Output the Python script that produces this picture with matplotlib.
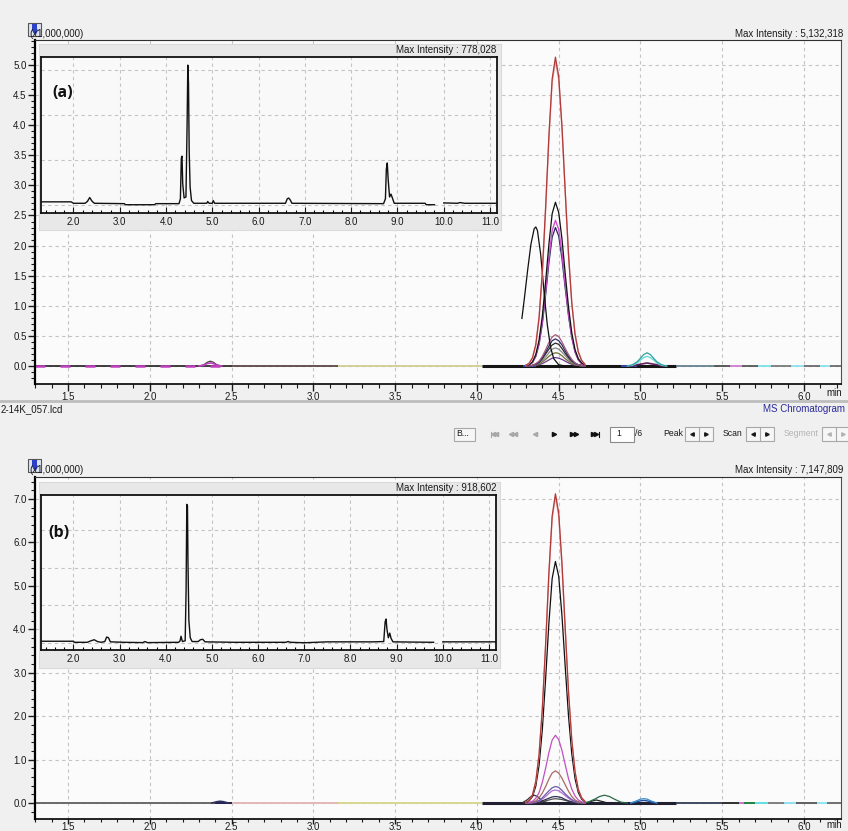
import matplotlib.pyplot as plt
import numpy as np
from matplotlib import font_manager
from matplotlib.patches import Rectangle
from matplotlib.ticker import MultipleLocator

## Values
## big windows: intensity x1,000,000 ; small TIC insets: intensity x100,000
nan = np.nan

# shared time grid (min) for the traces under the 4.48 min peak
t_main = [4.30, 4.32, 4.34, 4.36, 4.38, 4.40, 4.42, 4.44, 4.46, 4.48,
          4.50, 4.52, 4.54, 4.56, 4.58, 4.60, 4.62, 4.64, 4.66]

# ---- window (a) ----
a_red = [0.01, 0.05, 0.14, 0.36, 0.81, 1.57, 2.64, 3.82, 4.77, 5.13, 4.81, 3.98, 2.89, 1.85, 1.04, 0.52, 0.23, 0.09, 0.03]
a_pink = [0.01, 0.04, 0.13, 0.34, 0.78, 1.52, 2.58, 3.76, 4.71, 5.06, 4.76, 3.95, 2.88, 1.86, 1.06, 0.54, 0.24, 0.10, 0.03]
a_black = [0.01, 0.02, 0.07, 0.19, 0.43, 0.83, 1.40, 2.02, 2.53, 2.72, 2.55, 2.11, 1.53, 0.98, 0.55, 0.27, 0.12, 0.05, 0.02]
a_magenta = [0.01, 0.02, 0.06, 0.17, 0.38, 0.74, 1.24, 1.80, 2.25, 2.42, 2.27, 1.88, 1.36, 0.87, 0.49, 0.24, 0.11, 0.04, 0.01]
a_navy = [0.01, 0.02, 0.06, 0.16, 0.36, 0.70, 1.18, 1.71, 2.14, 2.30, 2.16, 1.78, 1.29, 0.83, 0.47, 0.23, 0.10, 0.04, 0.01]
a_mauve = [0.00, 0.00, 0.01, 0.04, 0.08, 0.16, 0.27, 0.39, 0.48, 0.52, 0.49, 0.40, 0.29, 0.19, 0.11, 0.05, 0.02, 0.01, 0.00]
a_indigo = [0.00, 0.00, 0.01, 0.03, 0.07, 0.14, 0.23, 0.33, 0.42, 0.45, 0.42, 0.35, 0.25, 0.16, 0.09, 0.05, 0.02, 0.01, 0.00]
a_dark = [0.00, 0.00, 0.01, 0.03, 0.06, 0.12, 0.20, 0.28, 0.35, 0.38, 0.36, 0.29, 0.21, 0.14, 0.08, 0.04, 0.02, 0.01, 0.00]
a_grey = [0.00, 0.00, 0.01, 0.02, 0.05, 0.09, 0.15, 0.22, 0.28, 0.30, 0.28, 0.23, 0.17, 0.11, 0.06, 0.03, 0.01, 0.01, 0.00]
a_olive = [0.00, 0.00, 0.01, 0.02, 0.03, 0.07, 0.11, 0.16, 0.20, 0.22, 0.21, 0.17, 0.12, 0.08, 0.04, 0.02, 0.01, 0.00, 0.00]
a_low = [0.00, 0.00, 0.00, 0.01, 0.02, 0.04, 0.07, 0.10, 0.13, 0.14, 0.13, 0.11, 0.08, 0.05, 0.03, 0.01, 0.01, 0.00, 0.00]

# early eluting trace, starts part way up
t_a_early = [4.275, 4.29, 4.31, 4.33, 4.35, 4.36, 4.37, 4.39, 4.41, 4.43, 4.45, 4.47, 4.50, 4.54]
a_early = [0.79, 1.12, 1.59, 2.02, 2.28, 2.31, 2.25, 1.85, 1.24, 0.69, 0.31, 0.12, 0.02, 0.00]

# 5.04 min group
t_a_cyan = [4.92, 4.95, 4.98, 5.00, 5.02, 5.04, 5.06, 5.08, 5.10, 5.13, 5.16]
a_cyan1 = [0.00, 0.02, 0.07, 0.13, 0.19, 0.22, 0.19, 0.13, 0.07, 0.02, 0.00]
a_cyan2 = [0.00, 0.01, 0.05, 0.10, 0.14, 0.16, 0.14, 0.10, 0.05, 0.01, 0.00]
a_plum = [0.00, 0.00, 0.02, 0.03, 0.04, 0.05, 0.04, 0.03, 0.02, 0.00, 0.00]

# small bump at 2.37 min
t_a_bump = [2.30, 2.33, 2.35, 2.37, 2.39, 2.41, 2.44]
a_bump_k = [0.00, 0.02, 0.06, 0.08, 0.06, 0.02, 0.00]
a_bump_m = [0.00, 0.01, 0.04, 0.05, 0.04, 0.01, 0.00]

# flat baseline pieces of the other channels (start, end)
a_seg_start = [1.298, 2.50, 3.15, 4.03, 4.28, 4.88, 5.22, 5.45, 5.55, 5.62, 5.72, 5.80, 5.92, 6.00, 6.10, 6.16]
a_seg_end = [2.50, 3.15, 4.03, 5.22, 4.36, 4.98, 5.45, 5.55, 5.62, 5.72, 5.80, 5.92, 6.00, 6.10, 6.16, 6.226]
a_seg_color = ['#202020', '#503838', '#cccc88', '#151515', '#3050d0', '#3050d0', '#5a7888', '#404040',
               '#d070d0', '#4a4a4a', '#70e0e8', '#707070', '#80e0f0', '#606060', '#80e0f0', '#606060']

# ---- window (b) ----
b_red = [0.02, 0.06, 0.19, 0.50, 1.12, 2.18, 3.66, 5.30, 6.61, 7.12, 6.68, 5.52, 4.01, 2.56, 1.45, 0.72, 0.31, 0.12, 0.04]
b_pink = [0.02, 0.06, 0.19, 0.49, 1.11, 2.16, 3.62, 5.25, 6.55, 7.05, 6.61, 5.46, 3.97, 2.54, 1.43, 0.71, 0.31, 0.12, 0.04]
b_black = [0.01, 0.05, 0.15, 0.39, 0.87, 1.70, 2.86, 4.14, 5.17, 5.56, 5.22, 4.31, 3.13, 2.00, 1.13, 0.56, 0.24, 0.09, 0.03]
b_magenta = [0.00, 0.01, 0.04, 0.11, 0.24, 0.48, 0.80, 1.16, 1.45, 1.56, 1.46, 1.21, 0.88, 0.56, 0.32, 0.16, 0.07, 0.03, 0.01]
b_brown = [0.00, 0.01, 0.02, 0.05, 0.12, 0.23, 0.38, 0.55, 0.69, 0.74, 0.69, 0.57, 0.42, 0.27, 0.15, 0.07, 0.03, 0.01, 0.00]
b_purple = [0.00, 0.00, 0.01, 0.03, 0.06, 0.12, 0.20, 0.28, 0.35, 0.38, 0.36, 0.29, 0.21, 0.14, 0.08, 0.04, 0.02, 0.01, 0.00]
b_violet = [0.00, 0.00, 0.01, 0.02, 0.05, 0.09, 0.15, 0.22, 0.28, 0.30, 0.28, 0.23, 0.17, 0.11, 0.06, 0.03, 0.01, 0.01, 0.00]
b_dark1 = [0.00, 0.00, 0.00, 0.01, 0.02, 0.05, 0.08, 0.11, 0.14, 0.15, 0.14, 0.12, 0.08, 0.05, 0.03, 0.02, 0.01, 0.00, 0.00]
b_dark2 = [0.00, 0.00, 0.00, 0.01, 0.02, 0.03, 0.05, 0.07, 0.09, 0.10, 0.09, 0.08, 0.06, 0.04, 0.02, 0.01, 0.00, 0.00, 0.00]

t_b_435 = [4.28, 4.31, 4.33, 4.35, 4.37, 4.40, 4.43]
b_435 = [0.01, 0.08, 0.15, 0.18, 0.15, 0.05, 0.01]
t_b_green = [4.64, 4.68, 4.72, 4.75, 4.78, 4.81, 4.84, 4.88, 4.92]
b_green = [0.00, 0.02, 0.09, 0.15, 0.18, 0.15, 0.09, 0.02, 0.00]
t_b_472 = [4.66, 4.70, 4.73, 4.76, 4.80]
b_472 = [0.00, 0.04, 0.07, 0.04, 0.00]
t_b_blue = [4.94, 4.97, 5.00, 5.02, 5.04, 5.07, 5.10]
b_blue1 = [0.00, 0.04, 0.09, 0.10, 0.09, 0.04, 0.00]
b_blue2 = [0.00, 0.02, 0.05, 0.06, 0.05, 0.02, 0.00]
t_b_bump = [2.38, 2.41, 2.43, 2.45, 2.48]
b_bump = [0.00, 0.03, 0.04, 0.03, 0.00]

b_seg_start = [1.298, 2.40, 2.50, 3.15, 4.03, 4.28, 5.22, 5.50, 5.60, 5.63, 5.70, 5.78, 5.88, 5.95, 6.08, 6.14]
b_seg_end = [2.40, 2.50, 3.15, 4.03, 5.22, 4.36, 5.50, 5.60, 5.63, 5.70, 5.78, 5.88, 5.95, 6.08, 6.14, 6.226]
b_seg_color = ['#6a6a6a', '#202050', '#e2b8b8', '#d8d890', '#202030', '#303030', '#404a60', '#303030',
               '#d070d0', '#208040', '#60e0e0', '#808080', '#90e0f0', '#606060', '#90e8f0', '#707070']

# ---- TIC insets (x100,000) ----
ins_a_t = [1.298, 1.95, 2.00, 2.25, 2.30, 2.35, 2.40, 2.45, 3.10, 3.12, 3.75, 3.78, 4.28, 4.31, 4.33, 4.345,
           4.36, 4.39, 4.43, 4.455, 4.47, 4.485, 4.50, 4.52, 4.55, 4.60, 4.88, 4.90, 4.93, 5.00, 5.02, 5.05,
           6.58, 6.62, 6.65, 6.68, 6.72, 8.70, 8.74, 8.76, 8.78, 8.80, 8.83, 8.86, 8.89, 8.93, 9.60, 9.62,
           9.80, 9.81, 10.00, 10.30, 10.35, 10.45, 11.151]
ins_a_v = [0.18, 0.18, 0.10, 0.10, 0.20, 0.42, 0.22, 0.10, 0.08, 0.02, 0.02, 0.08, 0.08, 0.35, 2.60, 2.72,
           1.20, 0.40, 0.45, 4.50, 7.78, 6.80, 3.00, 1.00, 0.25, 0.10, 0.10, 0.20, 0.10, 0.10, 0.25, 0.10,
           0.10, 0.35, 0.39, 0.30, 0.10, 0.08, 0.35, 2.00, 2.34, 1.40, 0.45, 0.61, 0.40, 0.10, 0.10, 0.02,
           0.02, nan, 0.12, 0.10, 0.14, 0.10, 0.10]

ins_b_t = [1.298, 2.00, 2.02, 2.30, 2.38, 2.45, 2.52, 2.60, 2.68, 2.72, 2.76, 2.80, 3.10, 3.50, 3.55, 3.60,
           4.28, 4.31, 4.33, 4.36, 4.42, 4.44, 4.455, 4.47, 4.48, 4.50, 4.53, 4.57, 4.70, 4.75, 4.80, 4.85,
           5.50, 6.60, 6.65, 6.70, 7.00, 7.50, 8.50, 8.72, 8.75, 8.77, 8.79, 8.82, 8.85, 8.88, 8.92, 9.80,
           9.81, 10.00, 11.151]
ins_b_v = [0.12, 0.12, 0.05, 0.05, 0.15, 0.22, 0.10, 0.05, 0.10, 0.40, 0.35, 0.08, 0.05, 0.03, 0.10, 0.03,
           0.05, 0.15, 0.45, 0.10, 0.15, 3.50, 9.19, 9.10, 5.50, 1.50, 0.35, 0.10, 0.10, 0.22, 0.25, 0.08,
           0.05, 0.05, 0.10, 0.05, 0.02, 0.08, 0.08, 0.10, 1.40, 1.59, 0.90, 0.35, 0.66, 0.30, 0.08, 0.05,
           nan, 0.08, 0.08]

x_ticks_main = [1.5, 2.0, 2.5, 3.0, 3.5, 4.0, 4.5, 5.0, 5.5, 6.0]
x_ticks_inset = [2.0, 3.0, 4.0, 5.0, 6.0, 7.0, 8.0, 9.0, 10.0, 11.0]

## Fonts: the screenshot uses a narrow sans
W, H = 848, 831
names = {f.name for f in font_manager.fontManager.ttflist}
if 'Liberation Sans Narrow' in names:
    FS = 8.2
    plt.rcParams['font.family'] = ['Liberation Sans Narrow', 'DejaVu Sans']
else:
    FS = 7.0
    plt.rcParams['font.family'] = ['Liberation Sans', 'DejaVu Sans']


def px_rect(x0, y0, x1, y1):
    return [x0 / W, 1 - y1 / H, (x1 - x0) / W, (y1 - y0) / H]


def style_main(ax, ylim, yticks, yminor):
    ax.set_facecolor('#fbfbfb')
    ax.set_xlim(1.298, 6.226)
    ax.set_ylim(*ylim)
    ax.set_xticks(x_ticks_main, [f'{v:.1f}' for v in x_ticks_main])
    ax.set_yticks(yticks, [f'{v:.1f}' for v in yticks])
    ax.xaxis.set_minor_locator(MultipleLocator(0.1))
    ax.yaxis.set_minor_locator(MultipleLocator(yminor))
    ax.grid(True, which='major', color='#c4c4c4', ls=(0, (3, 3)), lw=0.8)
    ax.set_axisbelow(True)
    ax.tick_params(which='major', length=5, width=1, colors='#1a1a1a', labelsize=FS, pad=1)
    ax.tick_params(which='minor', length=3, width=0.8, colors='#1a1a1a')
    ax.spines['top'].set_color('#303030')
    ax.spines['right'].set_color('#505050')
    ax.spines['top'].set_linewidth(0.8)
    ax.spines['right'].set_linewidth(0.8)
    ax.spines['left'].set_linewidth(1.6)
    ax.spines['bottom'].set_linewidth(1.2)


def style_inset(ax, ylim):
    ax.set_facecolor('#f9f9f9')
    ax.set_xlim(1.298, 11.151)
    ax.set_ylim(*ylim)
    ax.set_xticks(x_ticks_inset, [f'{v:.1f}' for v in x_ticks_inset])
    ax.xaxis.set_minor_locator(MultipleLocator(0.2))
    ax.set_yticks([0, 2.5, 5.0, 7.5])
    ax.tick_params(axis='y', length=0, labelleft=False)
    ax.tick_params(axis='x', which='major', direction='in', length=4, width=0.8,
                   colors='#1a1a1a', labelsize=FS, pad=3)
    ax.tick_params(axis='x', which='minor', direction='in', length=2, width=0.8)
    ax.grid(True, which='major', color='#c4c4c4', ls=(0, (3, 3)), lw=0.8)
    ax.set_axisbelow(True)
    for s in ax.spines.values():
        s.set_linewidth(1.3)
        s.set_color('#111111')


fig = plt.figure(figsize=(W / 100, H / 100), dpi=100, facecolor='#f0f0f0')

ax_a = fig.add_axes(px_rect(35, 40, 841, 384), zorder=1)
ax_b = fig.add_axes(px_rect(35, 477, 841, 819), zorder=1)
style_main(ax_a, (-0.299, 5.415), [0.0, 0.5, 1.0, 1.5, 2.0, 2.5, 3.0, 3.5, 4.0, 4.5, 5.0], 0.1)
style_main(ax_b, (-0.368, 7.506), [0.0, 1.0, 2.0, 3.0, 4.0, 5.0, 6.0, 7.0], 0.2)
# bottom window's labels sit right on the lower edge of the screenshot
ax_b.tick_params(axis='x', which='major', length=3.5, pad=-1)
ax_b.tick_params(axis='x', which='minor', length=2.5)

# ---- window (a) traces ----
for t0, t1, c in zip(a_seg_start, a_seg_end, a_seg_color):
    ax_a.plot([t0, t1], [0, 0], color=c, lw=2.2 if c == '#151515' else 1.2, solid_capstyle='butt')
ax_a.plot([1.298, 2.50], [0, 0], color='#c040c0', lw=1.8, ls=(0, (4, 6)))
ax_a.plot(t_a_bump, a_bump_k, color='#404040', lw=0.9)
ax_a.plot(t_a_bump, a_bump_m, color='#c040c0', lw=1.2)
for v, c in [(a_low, '#6a3a8a'), (a_olive, '#6e6e30'), (a_grey, '#8a8a8a'), (a_dark, '#2a2a2a'),
             (a_indigo, '#2a2a66'), (a_mauve, '#a45a7c')]:
    ax_a.plot(t_main, v, color=c, lw=0.9)
ax_a.plot(t_a_cyan, a_plum, color='#60205a', lw=1.2)
ax_a.plot(t_a_cyan, a_cyan2, color='#60d8d8', lw=0.9)
ax_a.plot(t_a_cyan, a_cyan1, color='#30a0a0', lw=0.9)
ax_a.plot(t_main, a_navy, color='#262660', lw=0.9)
ax_a.plot(t_main, a_magenta, color='#d050d0', lw=1.0)
ax_a.plot(t_main, a_black, color='#101010', lw=0.9)
ax_a.plot(t_a_early, a_early, color='#101010', lw=0.9)
ax_a.plot(t_main, a_pink, color='#e8a0a0', lw=1.0)
ax_a.plot(t_main, a_red, color='#b03a3a', lw=0.9)

# ---- window (b) traces ----
for t0, t1, c in zip(b_seg_start, b_seg_end, b_seg_color):
    ax_b.plot([t0, t1], [0, 0], color=c, lw=2.2 if c == '#202030' else 1.4, solid_capstyle='butt')
ax_b.plot(t_b_bump, b_bump, color='#303060', lw=1.2)
ax_b.plot(t_b_blue, b_blue2, color='#2050a0', lw=1.0)
ax_b.plot(t_b_blue, b_blue1, color='#3a8ac8', lw=0.9)
ax_b.plot(t_b_472, b_472, color='#202020', lw=0.9)
ax_b.plot(t_b_green, b_green, color='#2a6a4a', lw=0.9)
ax_b.plot(t_b_435, b_435, color='#303030', lw=0.9)
for v, c in [(b_dark2, '#505050'), (b_dark1, '#303050'), (b_violet, '#b070d0'), (b_purple, '#6a5aa8'),
             (b_brown, '#a86a60'), (b_magenta, '#c050c0'), (b_black, '#101010'), (b_pink, '#e8a0a0'),
             (b_red, '#b03a3a')]:
    ax_b.plot(t_main, v, color=c, lw=0.9 if c != '#e8a0a0' else 1.0)

# ---- insets with their grey title / label panels ----
for rect in [(39, 44, 501, 230), (39, 482, 500, 668)]:
    pn = fig.add_axes(px_rect(*rect), zorder=3)
    pn.set_facecolor('#e8e8e8')
    pn.set_xticks([])
    pn.set_yticks([])
    for s in pn.spines.values():
        s.set_color('#dadada')
        s.set_linewidth(0.8)

in_a = fig.add_axes(px_rect(41, 57, 497, 213), zorder=4)
style_inset(in_a, (-0.44, 8.23))
in_a.plot(ins_a_t, ins_a_v, color='#111111', lw=1.0)

in_b = fig.add_axes(px_rect(41, 495, 496, 650), zorder=4)
style_inset(in_b, (-0.46, 9.81))
in_b.plot(ins_b_t, ins_b_v, color='#111111', lw=1.0)

# ---- screenshot chrome: texts, toolbar (pixel coordinates) ----
ov = fig.add_axes([0, 0, 1, 1], zorder=10)
ov.set_xlim(0, W)
ov.set_ylim(H, 0)
ov.axis('off')
ov.patch.set_alpha(0)

txt = dict(fontsize=FS, color='#1a1a1a', va='center')
for y_top, mi, mi_in, y_in, lab, y_lab, x_lab in [
        (34, '5,132,318', '778,028', 50, '(a)', 93, 52),
        (470, '7,147,809', '918,602', 488, '(b)', 533, 48)]:
    ov.text(29, y_top, '(x1,000,000)', ha='left', **txt)
    ov.add_patch(Rectangle((28, y_top - 11), 13, 13, facecolor='#dfe4f2', edgecolor='#555555', lw=0.8))
    ov.add_patch(Rectangle((32, y_top - 10), 5, 7, facecolor='#2c40c8', edgecolor='none'))
    ov.plot([34.5], [y_top - 2], marker='v', ms=5, color='#2c40c8', mec='none')
    ov.text(843, y_top, 'Max Intensity : ' + mi, ha='right', **txt)
    ov.text(496, y_in, 'Max Intensity : ' + mi_in, ha='right', **txt)
    ov.text(x_lab, y_lab, lab, ha='left', va='center', fontsize=11.5, fontweight='bold',
            family='Open Sans', color='#111111')

ov.text(826, 393, 'min', ha='left', **txt)
ov.text(826, 825, 'min', ha='left', **txt)

ov.plot([0, W], [401, 401], color='#bdbdbd', lw=2)
ov.text(1, 409, '2-14K_057.lcd', ha='left', **txt)
ov.text(845, 409, 'MS Chromatogram', ha='right', fontsize=FS, color='#2a2a9a', va='center')

# toolbar row
yb = 434
TS = FS - 0.8
ov.add_patch(Rectangle((454, 428), 21, 13, facecolor='#f6f6f6', edgecolor='#a8a8a8', lw=0.8))
ov.text(456, yb, 'B...', ha='left', fontsize=TS, color='#1a1a1a', va='center')
grey_i, dark_i = '#a8a8a8', '#111111'
ov.plot([490.5, 490.5], [yb - 2.5, yb + 2.5], color=grey_i, lw=0.8)
ov.plot([493, 496], [yb, yb], ls='none', marker='<', ms=3, color=grey_i)
ov.plot([511, 515], [yb, yb], ls='none', marker='<', ms=3, color=grey_i)
ov.plot([535], [yb], ls='none', marker='<', ms=3, color=grey_i)
ov.plot([554], [yb], ls='none', marker='>', ms=3, color=dark_i)
ov.plot([572, 576], [yb, yb], ls='none', marker='>', ms=3, color=dark_i)
ov.plot([593, 596], [yb, yb], ls='none', marker='>', ms=3, color=dark_i)
ov.plot([598.5, 598.5], [yb - 2.5, yb + 2.5], color=dark_i, lw=0.8)
ov.add_patch(Rectangle((610, 427), 24, 15, facecolor='#ffffff', edgecolor='#8a8a8a', lw=0.8))
ov.text(616, yb, '1', ha='left', fontsize=TS, color='#1a1a1a', va='center')
ov.text(635, yb, '/6', ha='left', fontsize=TS, color='#1a1a1a', va='center')
for x_t, lbl, x_b, col in [(663, 'Peak', 685, '#1a1a1a'), (723, 'Scan', 746, '#1a1a1a'),
                           (784, 'Segment', 822, '#b4b4b4')]:
    ov.text(x_t, yb, lbl, ha='left', fontsize=TS, color=col, va='center')
    ov.add_patch(Rectangle((x_b, 427), 28, 14, facecolor='#f6f6f6', edgecolor='#a8a8a8', lw=0.8))
    ov.plot([x_b + 14, x_b + 14], [427, 441], color='#a8a8a8', lw=0.8)
    ov.plot([x_b + 7], [yb], ls='none', marker='<', ms=2.5, color=col)
    ov.plot([x_b + 21], [yb], ls='none', marker='>', ms=2.5, color=col)

fig.savefig('out.png', dpi=100, facecolor=fig.get_facecolor())
